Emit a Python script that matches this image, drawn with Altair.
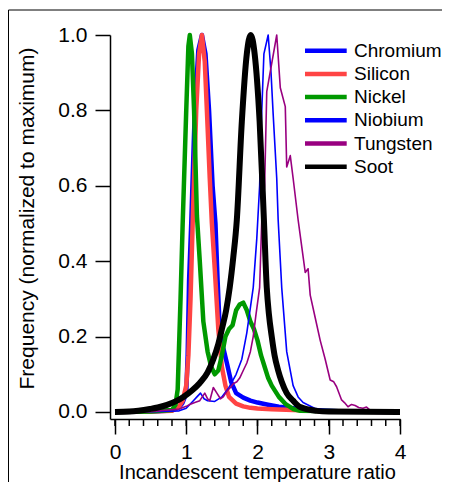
import altair as alt
import pandas as pd

FONT = "Liberation Sans"

series_names = ["Chromium", "Silicon", "Nickel", "Niobium", "Tungsten", "Soot"]
series_colors = ["#0000FF", "#FF4444", "#009900", "#0000FF", "#990080", "#000000"]
series_widths = [4.5, 4.5, 4.5, 1.6, 1.6, 6.0]

chromium_x = [0, 0.5, 0.8, 0.9, 0.95, 1.0, 1.02, 1.04, 1.07, 1.12, 1.17, 1.22, 1.27, 1.32, 1.37, 1.41, 1.44, 1.47, 1.52, 1.57, 1.63, 1.7, 1.8, 1.9, 2.0, 2.13, 2.3, 2.6, 2.8, 3.0, 3.2, 4.0]
chromium_y = [0, 0.001, 0.004, 0.012, 0.025, 0.05, 0.15, 0.35, 0.5, 0.8, 0.96, 1.0, 0.95, 0.8, 0.6, 0.5, 0.35, 0.22, 0.17, 0.13, 0.08, 0.05, 0.038, 0.03, 0.025, 0.02, 0.014, 0.008, 0.005, 0.003, 0.001, 0]

silicon_x = [0, 0.5, 0.8, 0.9, 0.95, 1.0, 1.03, 1.06, 1.09, 1.14, 1.18, 1.22, 1.26, 1.29, 1.33, 1.36, 1.4, 1.45, 1.5, 1.55, 1.6, 1.7, 1.8, 1.9, 2.0, 2.2, 2.5, 2.8, 3.0, 4.0]
silicon_y = [0, 0.001, 0.003, 0.015, 0.03, 0.07, 0.15, 0.3, 0.5, 0.8, 0.95, 1.0, 0.93, 0.8, 0.62, 0.5, 0.38, 0.22, 0.12, 0.07, 0.04, 0.022, 0.015, 0.011, 0.009, 0.007, 0.005, 0.003, 0.001, 0]

nickel_x = [0, 0.5, 0.8, 0.85, 0.88, 0.92, 0.95, 1.0, 1.03, 1.05, 1.08, 1.11, 1.15, 1.19, 1.24, 1.3, 1.35, 1.4, 1.45, 1.5, 1.55, 1.6, 1.65, 1.7, 1.75, 1.8, 1.85, 1.9, 1.95, 2.0, 2.05, 2.1, 2.15, 2.2, 2.3, 2.4, 2.5, 2.6, 4.0]
nickel_y = [0, 0.001, 0.005, 0.02, 0.06, 0.3, 0.5, 0.8, 0.97, 1.0, 0.95, 0.8, 0.52, 0.4, 0.24, 0.16, 0.12, 0.1, 0.11, 0.15, 0.2, 0.22, 0.23, 0.27, 0.285, 0.29, 0.27, 0.24, 0.22, 0.19, 0.15, 0.12, 0.09, 0.07, 0.04, 0.02, 0.008, 0.003, 0]

niobium_x = [0, 0.5, 0.9, 1.0, 1.1, 1.15, 1.2, 1.25, 1.3, 1.4, 1.5, 1.6, 1.7, 1.78, 1.85, 1.94, 1.99, 2.03, 2.06, 2.09, 2.15, 2.19, 2.22, 2.27, 2.29, 2.34, 2.41, 2.5, 2.57, 2.64, 2.8, 2.97, 3.2, 4.0]
niobium_y = [0, 0.001, 0.003, 0.01, 0.03, 0.04, 0.05, 0.035, 0.03, 0.028, 0.04, 0.065, 0.1, 0.14, 0.21, 0.33, 0.46, 0.6, 0.8, 0.95, 1.0, 0.9, 0.79, 0.62, 0.51, 0.33, 0.16, 0.07, 0.04, 0.025, 0.01, 0.005, 0.002, 0]

tungsten_x = [0, 0.5, 0.9, 1.0, 1.05, 1.12, 1.19, 1.26, 1.3, 1.33, 1.38, 1.43, 1.48, 1.52, 1.57, 1.62, 1.66, 1.71, 1.75, 1.8, 1.85, 1.9, 1.94, 1.98, 2.03, 2.06, 2.1, 2.13, 2.27, 2.32, 2.39, 2.41, 2.46, 2.5, 2.57, 2.62, 2.67, 2.71, 2.74, 2.81, 2.88, 2.95, 3.02, 3.07, 3.11, 3.18, 3.22, 3.27, 3.32, 3.37, 3.42, 3.48, 3.53, 3.58, 3.65, 3.8, 4.0]
tungsten_y = [0, 0.001, 0.008, 0.015, 0.02, 0.025, 0.03, 0.05, 0.035, 0.03, 0.065, 0.05, 0.035, 0.04, 0.055, 0.065, 0.075, 0.08, 0.09, 0.11, 0.13, 0.16, 0.2, 0.26, 0.33, 0.51, 0.6, 0.85, 1.0, 0.86, 0.81, 0.65, 0.68, 0.62, 0.51, 0.44, 0.37, 0.38, 0.31, 0.25, 0.19, 0.14, 0.085, 0.08, 0.067, 0.032, 0.025, 0.014, 0.02, 0.017, 0.012, 0.01, 0.013, 0.005, 0.003, 0.001, 0]

soot_x = [0, 0.2, 0.49, 0.6, 0.73, 0.85, 0.96, 1.08, 1.19, 1.3, 1.38, 1.45, 1.5, 1.56, 1.61, 1.66, 1.71, 1.78, 1.85, 1.905, 1.96, 2.03, 2.09, 2.13, 2.16, 2.2, 2.24, 2.29, 2.34, 2.41, 2.5, 2.6, 2.83, 3.0, 4.0]
soot_y = [0, 0.001, 0.008, 0.012, 0.019, 0.028, 0.04, 0.057, 0.077, 0.105, 0.14, 0.18, 0.22, 0.27, 0.33, 0.41, 0.51, 0.77, 0.95, 1.0, 0.95, 0.77, 0.51, 0.33, 0.26, 0.2, 0.15, 0.11, 0.08, 0.05, 0.03, 0.013, 0.003, 0.001, 0]

x_major_ticks = [0, 1, 2, 3, 4]
x_minor_ticks = [i / 5 for i in range(21)]
y_ticks = [0.0, 0.2, 0.4, 0.6, 0.8, 1.0]

all_x = [chromium_x, silicon_x, nickel_x, niobium_x, tungsten_x, soot_x]
all_y = [chromium_y, silicon_y, nickel_y, niobium_y, tungsten_y, soot_y]

W, H = 290, 384
xscale = alt.Scale(domain=[-0.07, 4.0], nice=False, zero=False)
yscale = alt.Scale(domain=[-0.0186, 1.0], nice=False, zero=False)

x_axis = alt.Axis(
    values=x_major_ticks, format="d", title="Incandescent temperature ratio",
    tickSize=15, tickWidth=1.5, tickColor="black", domainColor="black", domainWidth=1.5,
    labelFontSize=21, labelFont=FONT, labelColor="black", labelPadding=7,
    titleFontSize=20, titleFont=FONT, titleFontWeight="normal", titleColor="black",
    titleX=147, titleY=59, titleBaseline="alphabetic", grid=False, labelFlush=False,
)
y_axis = alt.Axis(
    values=y_ticks, format=".1f", title="Frequency (normalized to maximum)",
    tickSize=15, tickWidth=1.5, tickColor="black", domainColor="black", domainWidth=1.5,
    labelFontSize=21, labelFont=FONT, labelColor="black", labelPadding=8,
    titleFontSize=21, titleFont=FONT, titleFontWeight="normal", titleColor="black",
    titleX=-77, titleY=183, titleAngle=-90, titleBaseline="alphabetic", titleAlign="center",
    grid=False, labelFlush=False,
)

layers = []
for name, xs, ys, col, w in zip(series_names, all_x, all_y, series_colors, series_widths):
    df = pd.DataFrame({"x": xs, "y": ys, "i": list(range(len(xs)))})
    interp = "monotone" if name == "Soot" else "linear"
    layers.append(
        alt.Chart(df).mark_line(color=col, strokeWidth=w, strokeJoin="round", interpolate=interp).encode(
            x=alt.X("x:Q", scale=xscale, axis=x_axis),
            y=alt.Y("y:Q", scale=yscale, axis=y_axis),
            order="i:Q",
        )
    )

minor = alt.Chart(pd.DataFrame({"t": x_minor_ticks})).mark_rule(color="black", strokeWidth=1.5).encode(
    x=alt.X("t:Q", scale=xscale, axis=x_axis),
    y=alt.value(H),
    y2=alt.value(H + 7),
)

curves = alt.layer(minor, *layers)

leg_df = pd.DataFrame({"series": series_names})
leg_y = alt.Y("series:N", scale=alt.Scale(type="point", domain=series_names, range=[15.7, 131.7], padding=0), axis=None)
leg_lines = alt.Chart(leg_df).mark_rule().encode(
    x=alt.value(195), x2=alt.value(236.7), y=leg_y,
    color=alt.Color("series:N", scale=alt.Scale(domain=series_names, range=series_colors), legend=None),
    strokeWidth=alt.StrokeWidth("series:O", scale=alt.Scale(domain=series_names, range=series_widths), legend=None),
)
leg_text = alt.Chart(leg_df).mark_text(align="left", baseline="middle", fontSize=19, font=FONT, color="black").encode(
    x=alt.value(244), y=leg_y, text="series:N",
)

frame = alt.Chart(pd.DataFrame({"a": [0]})).mark_rule(color="black", strokeWidth=1).encode(
    x=alt.value(-101.5), x2=alt.value(340), y=alt.value(-25),
)
frame2 = alt.Chart(pd.DataFrame({"a": [0]})).mark_rule(color="black", strokeWidth=1).encode(
    x=alt.value(-101.5), y=alt.value(-25), y2=alt.value(470),
)

chart = alt.layer(curves, leg_lines, leg_text, frame, frame2).resolve_scale(
    y="independent", color="independent", strokeWidth="independent"
).properties(
    width=W, height=H,
    autosize=alt.AutoSizeParams(type="none"),
    padding={"left": 102, "top": 27, "right": 42, "bottom": 63},
    background="white",
).configure_view(stroke=None)

chart.save("out.html", embed_options={"renderer": "svg", "actions": False})
